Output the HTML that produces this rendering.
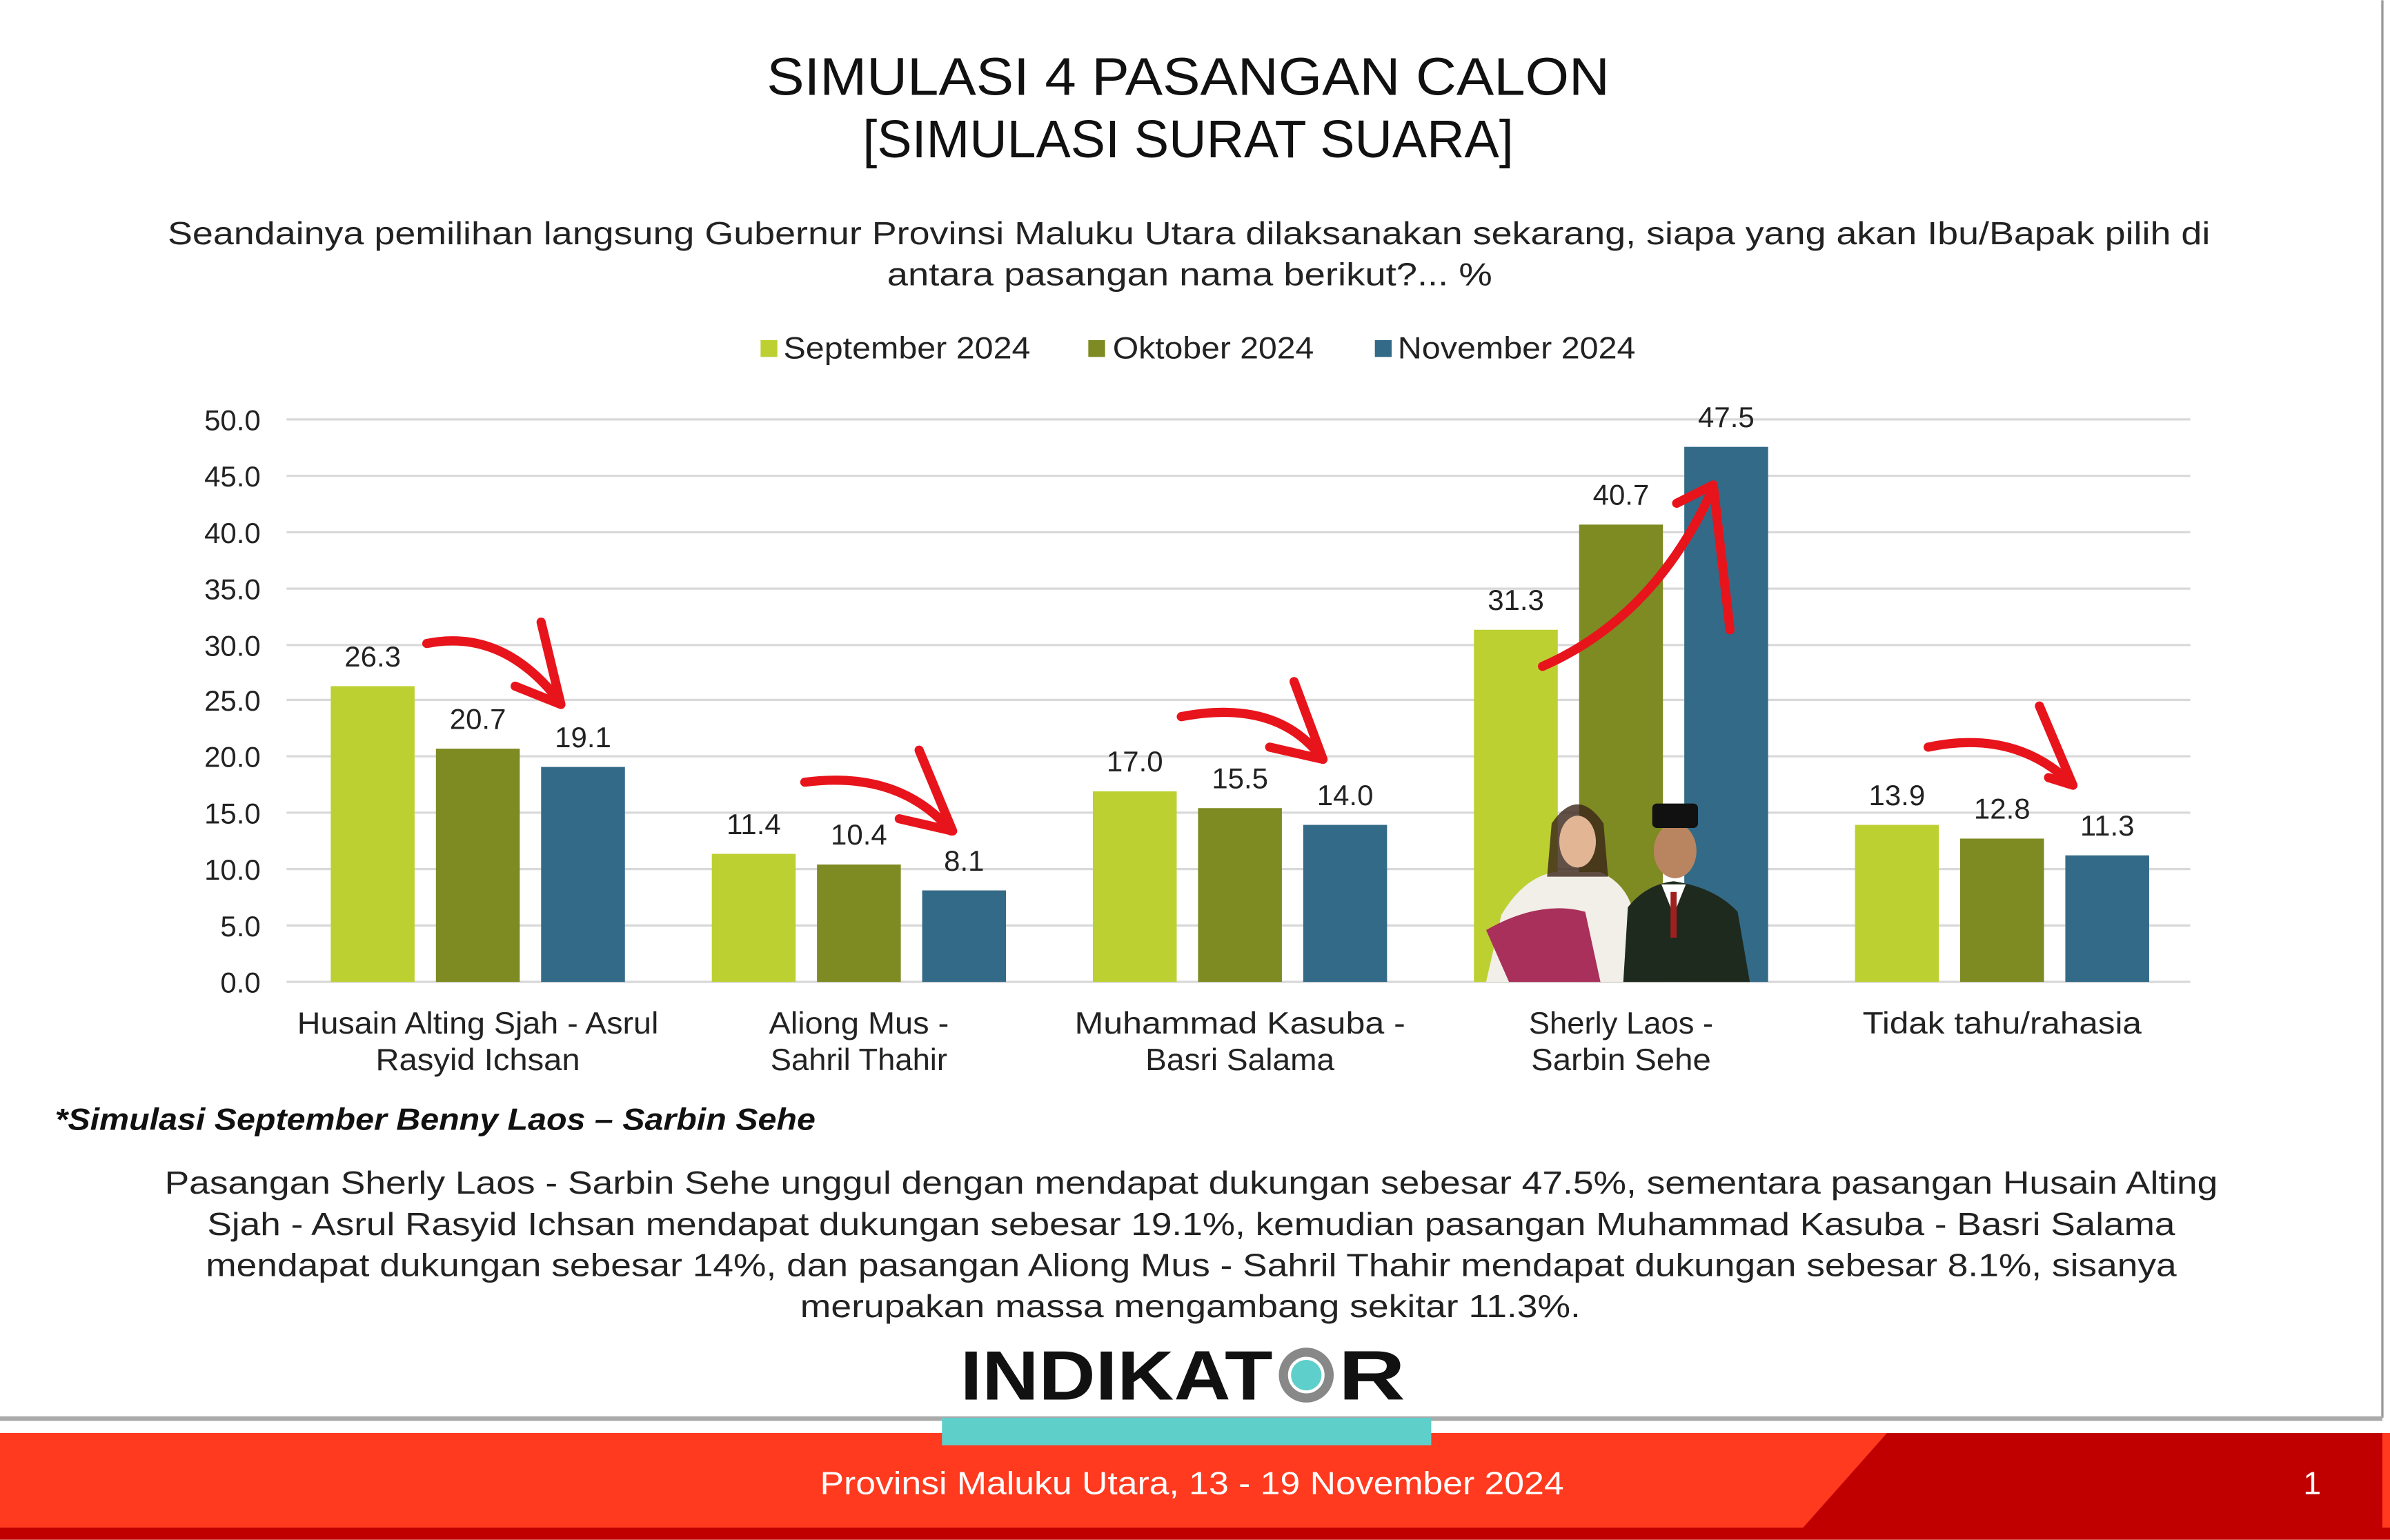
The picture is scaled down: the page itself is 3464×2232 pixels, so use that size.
<!DOCTYPE html>
<html><head><meta charset="utf-8"><style>html,body{margin:0;padding:0;background:#fff}svg{display:block}</style></head>
<body>
<svg width="3464" height="2232" viewBox="0 0 1568 1010" xmlns="http://www.w3.org/2000/svg" font-family="Liberation Sans, DejaVu Sans, sans-serif">
<rect width="1568" height="1010" fill="#fff"/>
<line x1="1563" y1="0" x2="1563" y2="930" stroke="#999" stroke-width="1.5"/>
<g fill="#111" lengthAdjust="spacingAndGlyphs">
<text x="503" y="62" font-size="35" textLength="553" lengthAdjust="spacingAndGlyphs">SIMULASI 4 PASANGAN CALON</text>
<text x="566" y="103" font-size="35" textLength="427" lengthAdjust="spacingAndGlyphs">[SIMULASI SURAT SUARA]</text>
<text x="110" y="160" font-size="21" fill="#222" textLength="1340" lengthAdjust="spacingAndGlyphs">Seandainya pemilihan langsung Gubernur Provinsi Maluku Utara dilaksanakan sekarang, siapa yang akan Ibu/Bapak pilih di</text>
<text x="582" y="187" font-size="21" fill="#222" textLength="397" lengthAdjust="spacingAndGlyphs">antara pasangan nama berikut?... %</text>
</g>
<g font-size="20" fill="#222">
<rect x="499" y="223" width="11" height="11" fill="#bdd032"/><text x="514" y="235" textLength="162" lengthAdjust="spacingAndGlyphs">September 2024</text>
<rect x="714" y="223" width="11" height="11" fill="#7e8a22"/><text x="730" y="235" textLength="132" lengthAdjust="spacingAndGlyphs">Oktober 2024</text>
<rect x="902" y="223" width="11" height="11" fill="#336a87"/><text x="917" y="235" textLength="156" lengthAdjust="spacingAndGlyphs">November 2024</text>
</g>
<g stroke="#d9d9d9" stroke-width="1.5">
<line x1="188" x2="1437" y1="275" y2="275"/><line x1="188" x2="1437" y1="312" y2="312"/><line x1="188" x2="1437" y1="349" y2="349"/><line x1="188" x2="1437" y1="386" y2="386"/><line x1="188" x2="1437" y1="423" y2="423"/><line x1="188" x2="1437" y1="459" y2="459"/><line x1="188" x2="1437" y1="496" y2="496"/><line x1="188" x2="1437" y1="533" y2="533"/><line x1="188" x2="1437" y1="570" y2="570"/><line x1="188" x2="1437" y1="607" y2="607"/><line x1="188" x2="1437" y1="644" y2="644"/>
</g>
<g font-size="19" fill="#222" text-anchor="end">
<text x="171" y="282">50.0</text><text x="171" y="319">45.0</text><text x="171" y="356">40.0</text><text x="171" y="393">35.0</text><text x="171" y="430">30.0</text><text x="171" y="466">25.0</text><text x="171" y="503">20.0</text><text x="171" y="540">15.0</text><text x="171" y="577">10.0</text><text x="171" y="614">5.0</text><text x="171" y="651">0.0</text>
</g>
<g>
<rect x="217" y="450" width="55" height="194" fill="#bdd032"/><rect x="286" y="491" width="55" height="153" fill="#7e8a22"/><rect x="355" y="503" width="55" height="141" fill="#336a87"/>
<rect x="467" y="560" width="55" height="84" fill="#bdd032"/><rect x="536" y="567" width="55" height="77" fill="#7e8a22"/><rect x="605" y="584" width="55" height="60" fill="#336a87"/>
<rect x="717" y="519" width="55" height="125" fill="#bdd032"/><rect x="786" y="530" width="55" height="114" fill="#7e8a22"/><rect x="855" y="541" width="55" height="103" fill="#336a87"/>
<rect x="967" y="413" width="55" height="231" fill="#bdd032"/><rect x="1036" y="344" width="55" height="300" fill="#7e8a22"/><rect x="1105" y="293" width="55" height="351" fill="#336a87"/>
<rect x="1217" y="541" width="55" height="103" fill="#bdd032"/><rect x="1286" y="550" width="55" height="94" fill="#7e8a22"/><rect x="1355" y="561" width="55" height="83" fill="#336a87"/>
</g>
<g>
<path d="M975 644 L985 600 Q1000 575 1020 572 L1050 572 Q1068 580 1072 600 L1075 644 Z" fill="#f2eee8"/>
<path d="M975 610 Q1010 590 1040 598 L1050 644 L990 644 Z" fill="#a8305a"/>
<path d="M1018 540 Q1035 515 1052 540 L1055 575 L1015 575 Z" fill="#3a2418" opacity="0.8"/>
<ellipse cx="1035" cy="552" rx="12" ry="17" fill="#e2b594"/>
<path d="M1065 644 L1068 595 Q1080 580 1098 578 Q1125 582 1140 598 L1148 644 Z" fill="#1f2a1f"/>
<path d="M1090 580 L1098 600 L1106 580 Z" fill="#fff"/>
<line x1="1098" y1="585" x2="1098" y2="615" stroke="#a02020" stroke-width="4"/>
<ellipse cx="1099" cy="558" rx="14" ry="18" fill="#b98560"/>
<rect x="1084" y="527" width="30" height="16" rx="3" fill="#111"/>
</g>
<g fill="#222" font-size="19" text-anchor="middle">
<text x="244.5" y="437">26.3</text><text x="313.5" y="478">20.7</text><text x="382.5" y="490">19.1</text>
<text x="494.5" y="547">11.4</text><text x="563.5" y="554">10.4</text><text x="632.5" y="571">8.1</text>
<text x="744.5" y="506">17.0</text><text x="813.5" y="517">15.5</text><text x="882.5" y="528">14.0</text>
<text x="994.5" y="400">31.3</text><text x="1063.5" y="331">40.7</text><text x="1132.5" y="280">47.5</text>
<text x="1244.5" y="528">13.9</text><text x="1313.5" y="537">12.8</text><text x="1382.5" y="548">11.3</text>
</g>
<g stroke="#e8141c" stroke-width="6" fill="none" stroke-linecap="round" stroke-linejoin="round">
<path d="M280 422 Q330 412 367 460"/><path d="M355 408 L368 462 L338 450"/>
<path d="M528 513 Q590 505 624 545"/><path d="M603 492 L625 545 L590 537"/>
<path d="M775 470 Q838 458 867 497"/><path d="M849 447 L868 498 L833 490"/>
<path d="M1012 437 Q1085 405 1123 322"/><path d="M1100 330 L1124 318 L1135 413"/>
<path d="M1265 490 Q1322 478 1359 514"/><path d="M1338 463 L1360 515 L1344 510"/>
</g>
<g fill="#222" font-size="20">
<text x="195" y="678" textLength="237" lengthAdjust="spacingAndGlyphs">Husain Alting Sjah - Asrul</text><text x="313.5" y="702" text-anchor="middle" textLength="134" lengthAdjust="spacingAndGlyphs">Rasyid Ichsan</text>
<text x="563.5" y="678" text-anchor="middle" textLength="118" lengthAdjust="spacingAndGlyphs">Aliong Mus -</text><text x="563.5" y="702" text-anchor="middle" textLength="116" lengthAdjust="spacingAndGlyphs">Sahril Thahir</text>
<text x="813.5" y="678" text-anchor="middle" textLength="217" lengthAdjust="spacingAndGlyphs">Muhammad Kasuba -</text><text x="813.5" y="702" text-anchor="middle" textLength="124" lengthAdjust="spacingAndGlyphs">Basri Salama</text>
<text x="1063.5" y="678" text-anchor="middle" textLength="121" lengthAdjust="spacingAndGlyphs">Sherly Laos -</text><text x="1063.5" y="702" text-anchor="middle" textLength="118" lengthAdjust="spacingAndGlyphs">Sarbin Sehe</text>
<text x="1313.5" y="678" text-anchor="middle" textLength="183" lengthAdjust="spacingAndGlyphs">Tidak tahu/rahasia</text>
</g>
<text x="36" y="741" font-size="20" font-weight="bold" font-style="italic" fill="#111" textLength="499" lengthAdjust="spacingAndGlyphs">*Simulasi September Benny Laos – Sarbin Sehe</text>
<g fill="#222" font-size="21">
<text x="108" y="783" textLength="1347" lengthAdjust="spacingAndGlyphs">Pasangan Sherly Laos - Sarbin Sehe unggul dengan mendapat dukungan sebesar 47.5%, sementara pasangan Husain Alting</text>
<text x="136" y="810" textLength="1291" lengthAdjust="spacingAndGlyphs">Sjah - Asrul Rasyid Ichsan mendapat dukungan sebesar 19.1%, kemudian pasangan Muhammad Kasuba - Basri Salama</text>
<text x="135" y="837" textLength="1293" lengthAdjust="spacingAndGlyphs">mendapat dukungan sebesar 14%, dan pasangan Aliong Mus - Sahril Thahir mendapat dukungan sebesar 8.1%, sisanya</text>
<text x="525" y="864" textLength="512" lengthAdjust="spacingAndGlyphs">merupakan massa mengambang sekitar 11.3%.</text>
</g>
<text x="630" y="918" font-size="46" font-weight="bold" fill="#111" textLength="205" lengthAdjust="spacingAndGlyphs">INDIKAT</text>
<circle cx="857" cy="902" r="15" fill="none" stroke="#888" stroke-width="6"/>
<circle cx="857" cy="902" r="10" fill="#5ecfca"/>
<text x="878" y="918" font-size="46" font-weight="bold" fill="#111" textLength="44" lengthAdjust="spacingAndGlyphs">R</text>
<rect x="0" y="929" width="1563" height="3" fill="#aaa"/>
<rect x="0" y="940" width="1568" height="62" fill="#ff3a1f"/>
<polygon points="1238,940 1563,940 1563,1002 1183,1002" fill="#c00000"/>
<rect x="0" y="1002" width="1568" height="8" fill="#c00000"/>
<rect x="618" y="930" width="321" height="18" fill="#5fcfca"/>
<text x="538" y="980" font-size="21" fill="#fff" textLength="488" lengthAdjust="spacingAndGlyphs">Provinsi Maluku Utara, 13 - 19 November 2024</text>
<text x="1517" y="980" font-size="21" fill="#fff" text-anchor="middle">1</text>
</svg>
</body></html>
